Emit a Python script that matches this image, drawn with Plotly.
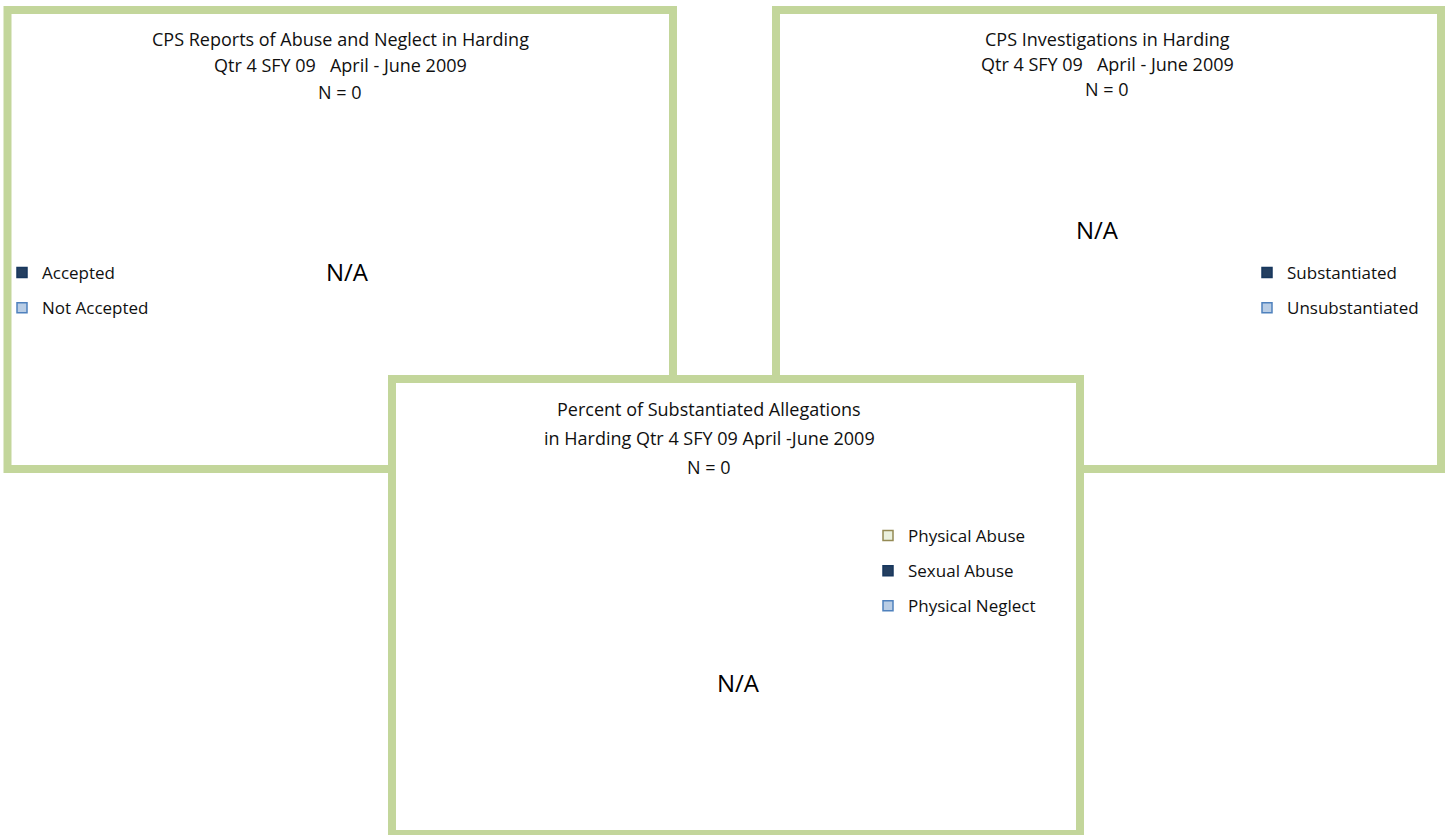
import plotly.graph_objects as go

W, H = 1446, 835

# chart data (all three quarterly charts are empty: N = 0)
report_labels = ["Accepted", "Not Accepted"]
report_counts = [0, 0]
investigation_labels = ["Substantiated", "Unsubstantiated"]
investigation_counts = [0, 0]
allegation_labels = ["Physical Abuse", "Sexual Abuse", "Physical Neglect"]
allegation_counts = [0, 0, 0]

report_title = ["CPS Reports of Abuse and Neglect in Harding",
                "Qtr 4 SFY 09   April - June 2009"]
investigation_title = ["CPS Investigations in Harding",
                       "Qtr 4 SFY 09   April - June 2009"]
allegation_title = ["Percent of Substantiated Allegations",
                    "in Harding Qtr 4 SFY 09 April -June 2009"]

NAVY = "#243F60"
NAVY_EDGE = "#17375E"
LIGHT_BLUE = "#B9CDE5"
BLUE_EDGE = "#4F81BD"
report_colors = [(NAVY, NAVY_EDGE), (LIGHT_BLUE, BLUE_EDGE)]
investigation_colors = [(NAVY, NAVY_EDGE), (LIGHT_BLUE, BLUE_EDGE)]
allegation_colors = [("#EBF1DE", "#948A54"), (NAVY, NAVY_EDGE), (LIGHT_BLUE, BLUE_EDGE)]

BORDER = "#C3D69B"
FONT = "Open Sans"
TEXT = "#101010"


def px(x):
    return x / W


def py(y):
    return 1 - y / H


fig = go.Figure()

panels = [
    # (labels, counts, colors, title, legend id, box, title x, title ys, N/A pos, legend pos)
    (report_labels, report_counts, report_colors, report_title, "legend",
     (7.5, 10, 673, 469), 340, (39, 65, 92), (347, 271), (2, 255)),
    (investigation_labels, investigation_counts, investigation_colors, investigation_title, "legend2",
     (776, 10, 1441, 469), 1107, (39, 64, 89), (1097, 230), (1247, 255)),
    (allegation_labels, allegation_counts, allegation_colors, allegation_title, "legend3",
     (392, 379, 1080, 834), 709, (409, 438, 467), (738, 682), (868, 518)),
]

legends = {}
for labels, counts, colors, title, leg, box, tx, tys, na, lpos in panels:
    x0, y0, x1, y1 = box
    fig.add_shape(type="rect", xref="paper", yref="paper",
                  x0=px(x0), x1=px(x1), y0=py(y0), y1=py(y1),
                  fillcolor="white", line=dict(color=BORDER, width=8), layer="above")

    n = sum(counts)
    lines = title + [f"N = {n}"]
    for txt, ty in zip(lines, tys):
        fig.add_annotation(x=px(tx), y=py(ty), xref="paper", yref="paper",
                           text=txt, showarrow=False, xanchor="center", yanchor="middle",
                           font=dict(family=FONT, size=18, color=TEXT))
    if n == 0:
        fig.add_annotation(x=px(na[0]), y=py(na[1]), xref="paper", yref="paper",
                           text="N/A", showarrow=False, xanchor="center", yanchor="middle",
                           font=dict(family=FONT, size=24, color="black"))

    for label, (fill, edge) in zip(labels, colors):
        fig.add_trace(go.Scatter(
            x=[None], y=[None], mode="markers", name=label,
            legend=leg, legendgroup=leg + label, showlegend=True,
            marker=dict(symbol="square", size=10, color=fill, line=dict(color=edge, width=1.5)),
        ))
    legends[leg] = dict(x=px(lpos[0]), y=py(lpos[1]), xanchor="left", yanchor="top",
                        bgcolor="rgba(0,0,0,0)", traceorder="grouped", tracegroupgap=10,
                        font=dict(family=FONT, size=17, color=TEXT))

fig.update_layout(
    width=W, height=H,
    margin=dict(l=0, r=0, t=0, b=0),
    paper_bgcolor="white", plot_bgcolor="white",
    xaxis=dict(visible=False), yaxis=dict(visible=False),
    showlegend=True,
    **legends,
)

# the page's default body margin would push the figure 8px off the window
fig.write_html("out.html", config={"displayModeBar": False},
               post_script="document.body.style.margin = '0';")
